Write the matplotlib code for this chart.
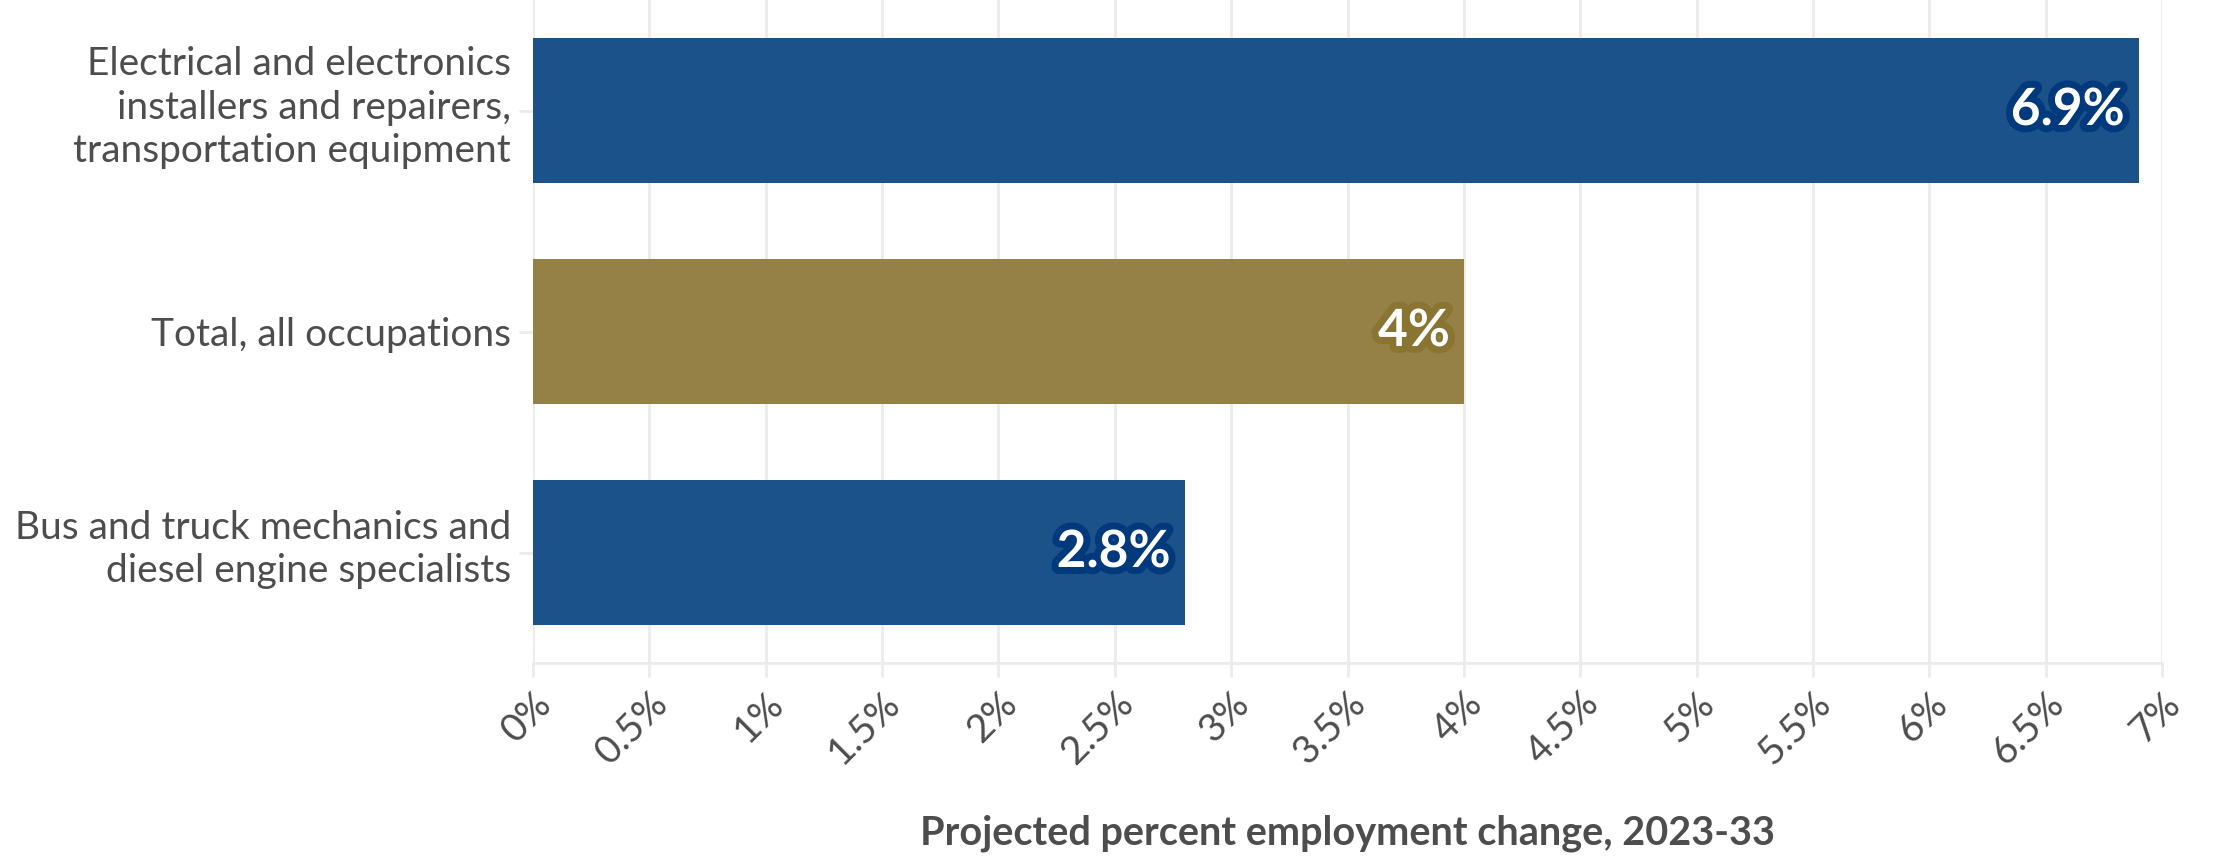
import matplotlib
matplotlib.use('Agg')
import matplotlib.pyplot as plt
import matplotlib.patheffects as pe
import matplotlib.transforms as mtransforms
from matplotlib.ticker import FuncFormatter, MultipleLocator

plt.rcParams['font.family'] = ['Lato', 'DejaVu Sans']

# Projected employment change, 2023-33 (percent)
occupations = [
    "Electrical and electronics\ninstallers and repairers,\ntransportation equipment",
    "Total, all occupations",
    "Bus and truck mechanics and\ndiesel engine specialists",
]
changes = [6.9, 4.0, 2.8]
value_labels = ["6.9%", "4%", "2.8%"]
bar_colors = ["#1a5289", "#958046", "#1a5289"]
outline_colors = ["#003a7d", "#8a7432", "#003a7d"]

text_grey = "#4d4d4d"
grid_grey = "#ebebeb"

fig = plt.figure(figsize=(22.13, 8.59), dpi=100)
ax = fig.add_axes([533 / 2213, 1 - 663 / 859, (2162 - 533) / 2213, 663 / 859])

ypos = list(range(len(occupations)))
ax.barh(ypos, changes, height=0.66, color=bar_colors, zorder=2)
ax.set_ylim(2.5, -0.5)
ax.set_xlim(0, 7)

for y, v, lab, oc in zip(ypos, changes, value_labels, outline_colors):
    ax.text(v - 0.06, y, lab, ha='right', va='center', color='white',
            fontsize=37, fontweight='bold', zorder=3,
            path_effects=[pe.withStroke(linewidth=10, foreground=oc)])

ax.xaxis.set_major_locator(MultipleLocator(0.5))
ax.xaxis.set_major_formatter(FuncFormatter(lambda x, _: f"{x:g}%"))
ax.set_yticks(ypos)
ax.set_yticklabels([])

# category labels: wrapped ones sit a bit higher than the bar centre
for y, name in zip(ypos, occupations):
    lift = 10 if "\n" in name else 0
    tr = ax.get_yaxis_transform() + mtransforms.ScaledTranslation(-22 / 100, lift / 100, fig.dpi_scale_trans)
    ax.text(0, y, name, transform=tr, ha='right', va='center_baseline',
            fontsize=28, color=text_grey, linespacing=1.25, multialignment='right')

for lbl in ax.get_xticklabels():
    lbl.set_rotation(45)
    lbl.set_ha('right')
    lbl.set_rotation_mode('anchor')
ax.tick_params(axis='x', labelsize=28, labelcolor=text_grey, length=10,
               width=2, color=grid_grey, pad=6)
ax.tick_params(axis='y', length=10, width=2, color=grid_grey, pad=6)

ax.grid(axis='x', color=grid_grey, linewidth=2, zorder=0)
for side in ['top', 'right', 'left']:
    ax.spines[side].set_visible(False)
ax.spines['bottom'].set_color(grid_grey)
ax.spines['bottom'].set_linewidth(2)

fig.text((533 + 2162) / 2 / 2213, 1 - 833 / 859,
         "Projected percent employment change, 2023-33",
         ha='center', va='center', fontsize=28.5, fontweight='bold', color=text_grey)

fig.savefig("out.png", dpi=100)
